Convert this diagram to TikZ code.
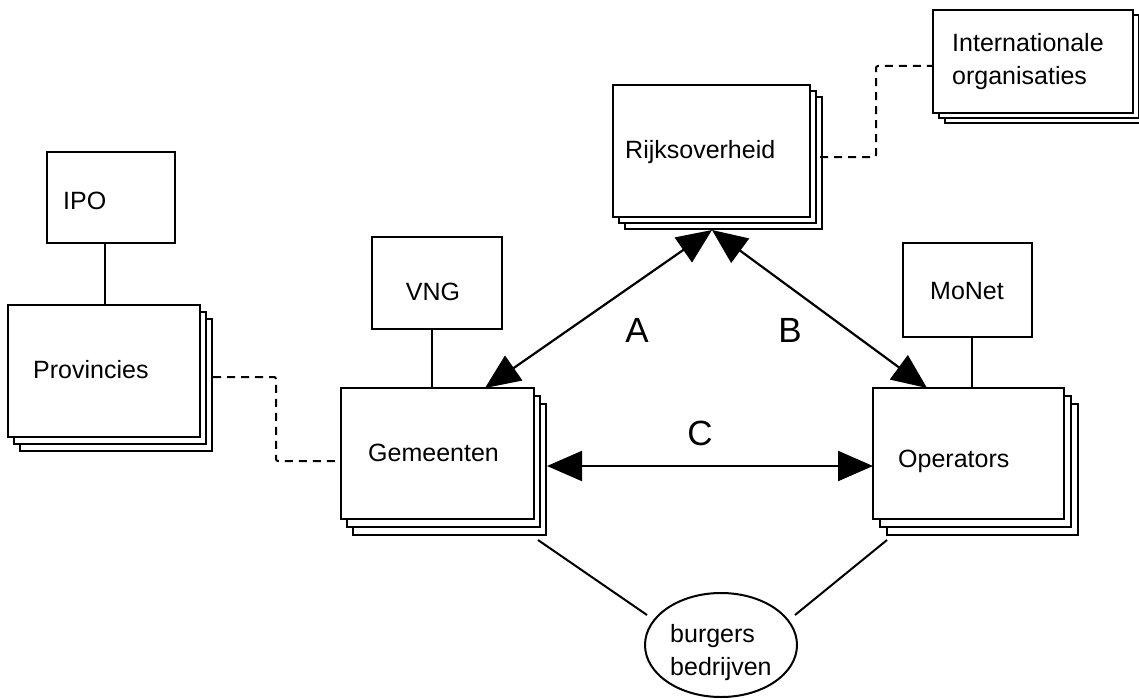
\documentclass[tikz,border=0pt]{standalone}
\usepackage{fontspec}
\setmainfont{Liberation Sans}
\usetikzlibrary{arrows.meta,fit,shapes.geometric}
\tikzset{
  ln/.style={line width=2pt},
  boxfill/.style={draw, line width=2.2pt, fill=white, inner sep=0pt},
  lbl/.style={inner sep=0pt, font=\fontsize{25}{30}\selectfont},
  big/.style={inner sep=0pt, font=\fontsize{35}{40}\selectfont},
  dsh/.style={line width=2pt, dash pattern=on 8pt off 6pt, rounded corners=2pt},
  dblarrow/.style={line width=2.2pt, {Triangle[length=35pt,width=30pt]}-{Triangle[length=35pt,width=30pt]}},
}
% name, x1, y1, x2, y2, dx, dy
\newcommand\stk[7]{%
  \node[boxfill, fit={(#2+2*#6,#3+2*#7) (#4+2*#6,#5+2*#7)}] (#1c) {};
  \node[boxfill, fit={(#2+#6,#3+#7) (#4+#6,#5+#7)}] (#1b) {};
  \node[boxfill, fit={(#2,#3) (#4,#5)}] (#1) {};
}
\begin{document}
\begin{tikzpicture}[x=1pt,y=-1pt]
\useasboundingbox (0,0) rectangle (1139,698);

% stacked boxes
\stk{rijk}{613}{85}{810}{217}{6}{6}
\stk{inter}{933}{10}{1133}{113}{6}{5}
\stk{prov}{8}{305}{200}{437}{6}{7}
\stk{gem}{341}{388}{534}{519}{6}{8}
\stk{oper}{873}{388}{1064}{519}{7}{8}

% single boxes
\node[boxfill, fit={(47,152) (175,243)}] (ipo) {};
\node[boxfill, fit={(372,237) (502,329)}] (vng) {};
\node[boxfill, fit={(903,243) (1032,337)}] (monet) {};

% ellipse
\node[draw, ln, ellipse, minimum width=152pt, minimum height=104pt, inner sep=0pt] (burg) at (721,645) {};

% texts
\node[lbl, anchor=base west] (trijk) at (625,158) {Rijksoverheid};
\node[lbl, anchor=base west] (tint1) at (952,52) {Internationale};
\node[lbl, anchor=base west] (tint2) at (952,85) {organisaties};
\node[lbl, anchor=base west] (tprov) at (33,378) {Provincies};
\node[lbl, anchor=base west] (tipo) at (63,209) {IPO};
\node[lbl, anchor=base west] (tgem) at (368,461) {Gemeenten};
\node[lbl, anchor=base west] (toper) at (898,467) {Operators};
\node[lbl, anchor=base] (tvng) at (433,300) {VNG};
\node[lbl, anchor=base] (tmonet) at (967,299) {MoNet};
\node[lbl, anchor=base west] (tb1) at (670,642) {burgers};
\node[lbl, anchor=base west] (tb2) at (670,675) {bedrijven};
\node[big, anchor=base] (la) at (637,342) {A};
\node[big, anchor=base] (lb) at (790,342) {B};
\node[big, anchor=base] (lc) at (700,445) {C};

% connector end points
\coordinate (rt) at (712,230);
\coordinate (gt) at (485,388);
\coordinate (ot) at (927,388);
\coordinate (gr) at (547,466);
\coordinate (ol) at (873,466);
\coordinate (gbl) at (538,540);
\coordinate (obl) at (887,540);
\coordinate (el) at (647,615);
\coordinate (er) at (795,615);
\coordinate (ipoc) at (105,243);
\coordinate (provc) at (105,305);
\coordinate (vngc) at (432,329);
\coordinate (gemc) at (432,388);
\coordinate (monc) at (972,337);
\coordinate (operc) at (972,388);
\coordinate (rr) at (820,157);
\coordinate (il) at (933,66);
\coordinate (pr) at (213,377);
\coordinate (gl) at (341,461);

% solid connectors
\draw[ln] (ipoc) -- (provc);
\draw[ln] (vngc) -- (gemc);
\draw[ln] (monc) -- (operc);
\draw[ln] (gbl) -- (el);
\draw[ln] (obl) -- (er);

% dashed connectors
\draw[dsh] (rr) -| (876,66) -- (il);
\draw[dsh] (pr) -| (276,461) -- (gl);

% arrows
\draw[dblarrow] (rt) -- (gt);
\draw[dblarrow] (rt) -- (ot);
\draw[dblarrow] (gr) -- (ol);
\end{tikzpicture}
\end{document}
